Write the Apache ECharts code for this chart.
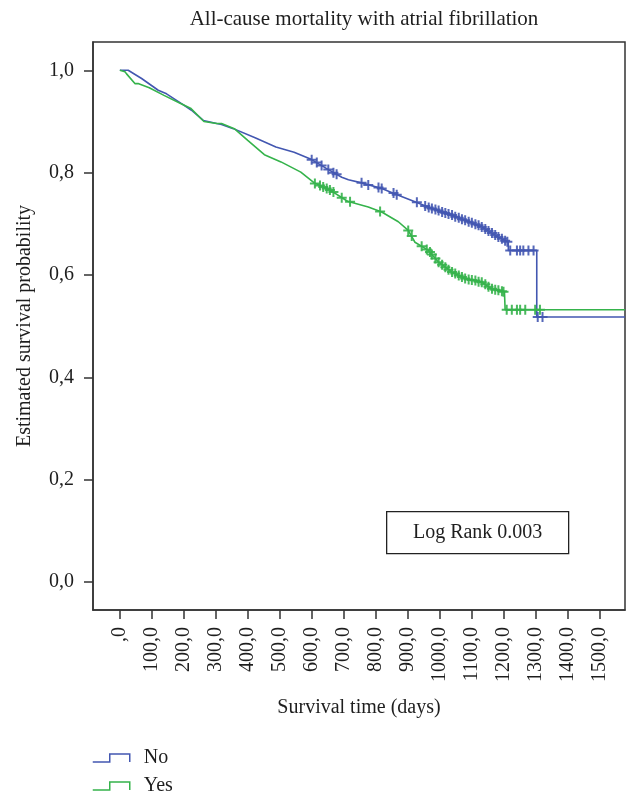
<!DOCTYPE html>
<html>
<head>
<meta charset="utf-8">
<script src="https://cdn.jsdelivr.net/npm/echarts@6/dist/echarts.min.js"></script>
<style>html,body{margin:0;padding:0;background:#fff;}#c{width:640px;height:805px;}</style>
</head>
<body>
<div id="c"></div>
<script>
// ---- data ----
var chartTitle = 'All-cause mortality with atrial fibrillation';
var seriesNames = ['No', 'Yes'];
var xTicks = [0, 100, 200, 300, 400, 500, 600, 700, 800, 900, 1000, 1100, 1200, 1300, 1400, 1500];
var xTickLabels = [',0', '100,0', '200,0', '300,0', '400,0', '500,0', '600,0', '700,0', '800,0', '900,0', '1000,0', '1100,0', '1200,0', '1300,0', '1400,0', '1500,0'];
var yTicks = [0, 0.2, 0.4, 0.6, 0.8, 1.0];
var yTickLabels = ['0,0', '0,2', '0,4', '0,6', '0,8', '1,0'];

// survival curve "No"
var noCurve = [
  [0, 1.0], [26, 1.0], [68, 0.984], [120, 0.961], [146, 0.954], [193, 0.935], [224, 0.922],
  [261, 0.902], [303, 0.896], [318, 0.894], [355, 0.886], [423, 0.868], [488, 0.850],
  [545, 0.840], [598, 0.826], [655, 0.805], [694, 0.791], [715, 0.786], [756, 0.780],
  [819, 0.769], [871, 0.756], [923, 0.743], [976, 0.730], [1028, 0.719], [1080, 0.707],
  [1132, 0.694], [1184, 0.674], [1215, 0.664], [1215, 0.648], [1304, 0.648], [1304, 0.518],
  [1580, 0.518]
];
// survival curve "Yes"
var yesCurve = [
  [0, 1.0], [16, 0.997], [21, 0.993], [47, 0.974], [57, 0.974], [92, 0.966], [138, 0.951],
  [190, 0.935], [221, 0.926], [263, 0.900], [303, 0.896], [318, 0.896], [358, 0.886],
  [400, 0.863], [452, 0.835], [504, 0.821], [566, 0.801], [608, 0.780], [660, 0.765],
  [712, 0.744], [777, 0.733], [819, 0.723], [871, 0.704], [902, 0.687], [923, 0.664],
  [965, 0.648], [997, 0.625], [1038, 0.606], [1080, 0.593], [1132, 0.586], [1163, 0.573],
  [1203, 0.567], [1205, 0.532], [1580, 0.532]
];
// censored observations
var noCensored = [
  [600, 0.825], [616, 0.820], [631, 0.814], [652, 0.806], [668, 0.800], [678, 0.797],
  [756, 0.780], [777, 0.776], [809, 0.771], [819, 0.769], [856, 0.760], [866, 0.757],
  [929, 0.742], [955, 0.735], [966, 0.732], [976, 0.730], [987, 0.728], [997, 0.726],
  [1008, 0.723], [1018, 0.721], [1028, 0.719], [1039, 0.717], [1049, 0.714], [1060, 0.712],
  [1070, 0.709], [1080, 0.707], [1091, 0.704], [1101, 0.702], [1112, 0.699], [1122, 0.697],
  [1132, 0.694], [1143, 0.690], [1153, 0.686], [1164, 0.682], [1174, 0.678], [1184, 0.674],
  [1195, 0.671], [1205, 0.667], [1212, 0.665], [1221, 0.648], [1242, 0.648], [1252, 0.648],
  [1262, 0.648], [1278, 0.648], [1294, 0.648], [1307, 0.518], [1322, 0.518]
];
var yesCensored = [
  [610, 0.779], [626, 0.775], [636, 0.772], [647, 0.769], [657, 0.766], [668, 0.762],
  [694, 0.751], [720, 0.743], [814, 0.724], [902, 0.687], [913, 0.676], [944, 0.656],
  [960, 0.650], [970, 0.645], [976, 0.640], [987, 0.632], [997, 0.625], [1008, 0.620],
  [1018, 0.615], [1028, 0.610], [1039, 0.606], [1049, 0.603], [1060, 0.599], [1070, 0.596],
  [1080, 0.593], [1091, 0.591], [1101, 0.590], [1112, 0.589], [1122, 0.587], [1132, 0.586],
  [1143, 0.582], [1153, 0.577], [1164, 0.573], [1174, 0.571], [1184, 0.570], [1195, 0.568],
  [1200, 0.567], [1210, 0.532], [1226, 0.532], [1242, 0.532], [1252, 0.532], [1268, 0.532],
  [1299, 0.532], [1314, 0.532]
];
var annotationText = 'Log Rank 0.003';

// ---- chart ----
var blue = '#4357b1';
var green = '#35b34b';
var ink = '#1e1e1e';
var font = '"Liberation Serif", "DejaVu Serif", serif';
var plus = 'path://M4,0H6V4H10V6H6V10H4V6H0V4H4Z';
var stepIcon = 'path://M0,8L17,8L17,0L37,0L37,8';

var chart = echarts.init(document.getElementById('c'), null, {renderer: 'canvas'});
chart.setOption({
  animation: false,
  backgroundColor: '#fff',
  textStyle: {fontFamily: font, color: ink},
  title: {
    text: chartTitle, left: 359, top: 4, textAlign: 'center',
    textStyle: {fontFamily: font, fontSize: 21, fontWeight: 'normal', color: ink}
  },
  grid: {
    left: 93, right: 15, top: 42, bottom: 195,
    show: true, borderColor: '#333', borderWidth: 1.5, backgroundColor: 'transparent'
  },
  legend: {
    orient: 'vertical', left: 92, top: 748, padding: 0,
    itemWidth: 37, itemHeight: 8, itemGap: 8,
    textStyle: {fontFamily: font, fontSize: 20, color: ink, padding: [0, 0, 0, 9]},
    data: [
      {name: seriesNames[0], icon: stepIcon, itemStyle: {color: 'rgba(0,0,0,0)', borderColor: blue, borderWidth: 1.5}},
      {name: seriesNames[1], icon: stepIcon, itemStyle: {color: 'rgba(0,0,0,0)', borderColor: green, borderWidth: 1.5}}
    ]
  },
  xAxis: {
    type: 'value', min: -84, max: 1580,
    name: 'Survival time (days)', nameLocation: 'middle', nameGap: 88,
    nameTextStyle: {fontFamily: font, fontSize: 20, color: ink},
    axisLine: {onZero: false, lineStyle: {color: '#333', width: 1.5}},
    axisTick: {show: true, length: 9, customValues: xTicks, lineStyle: {color: '#333', width: 1.5}},
    axisLabel: {
      rotate: 90, margin: 17, fontFamily: font, fontSize: 20, color: ink,
      customValues: xTicks,
      formatter: function (v) { return xTickLabels[xTicks.indexOf(Math.round(v))]; }
    },
    splitLine: {show: false}
  },
  yAxis: {
    type: 'value', min: -0.0547, max: 1.0553,
    name: 'Estimated survival probability', nameLocation: 'middle', nameGap: 58,
    nameTextStyle: {fontFamily: font, fontSize: 20, color: ink},
    axisLine: {onZero: false, lineStyle: {color: '#333', width: 1.5}},
    axisTick: {show: true, length: 9, customValues: yTicks, lineStyle: {color: '#333', width: 1.5}},
    axisLabel: {
      margin: 19, fontFamily: font, fontSize: 20, color: ink,
      customValues: yTicks,
      formatter: function (v) { return yTickLabels[yTicks.indexOf(Math.round(v * 10) / 10)]; }
    },
    splitLine: {show: false}
  },
  series: [
    {name: seriesNames[0], type: 'line', data: noCurve, showSymbol: false, symbol: 'none',
     lineStyle: {color: blue, width: 1.6}, itemStyle: {color: blue}, z: 3},
    {name: seriesNames[1], type: 'line', data: yesCurve, showSymbol: false, symbol: 'none',
     lineStyle: {color: green, width: 1.6}, itemStyle: {color: green}, z: 3},
    {name: seriesNames[0], type: 'scatter', data: noCensored, symbol: plus, symbolSize: 10,
     itemStyle: {color: blue, opacity: 0.9}, z: 4},
    {name: seriesNames[1], type: 'scatter', data: yesCensored, symbol: plus, symbolSize: 10,
     itemStyle: {color: green, opacity: 0.9}, z: 4}
  ],
  graphic: [{
    type: 'group', left: 386, top: 511,
    children: [
      {type: 'rect', shape: {x: 0, y: 0, width: 182, height: 42},
       style: {fill: '#fff', stroke: '#222', lineWidth: 1.3}},
      {type: 'text', x: 91, y: 21,
       style: {text: annotationText, fontFamily: font, fontSize: 20, fill: ink,
               align: 'center', verticalAlign: 'middle'}}
    ]
  }]
});
</script>
</body>
</html>
